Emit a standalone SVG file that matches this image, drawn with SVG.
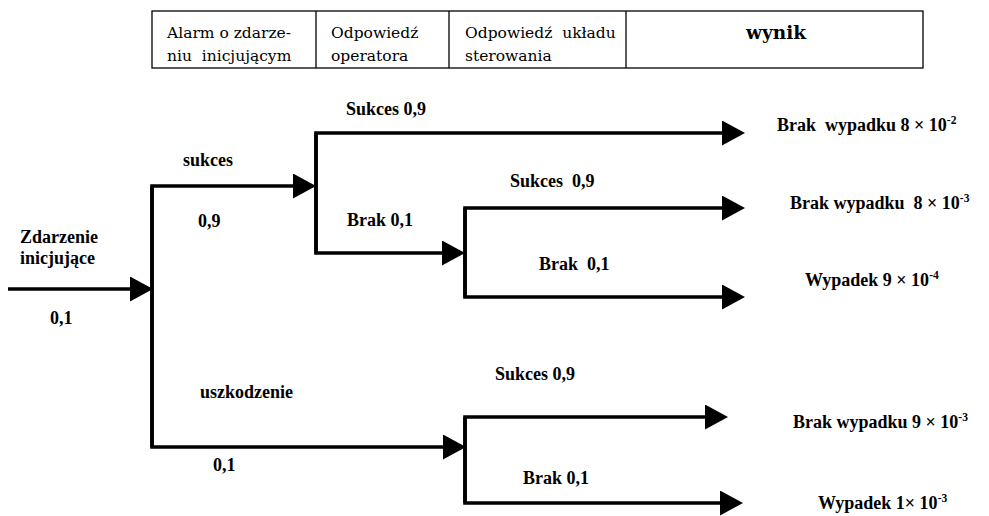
<svg xmlns="http://www.w3.org/2000/svg" width="989" height="516" viewBox="0 0 989 516">
<defs>
<marker id="ah" markerUnits="userSpaceOnUse" markerWidth="23" markerHeight="25" viewBox="0 0 23 25" refX="0" refY="12.5" orient="auto">
<path d="M0,0 L23,12.5 L0,25 Z" fill="#000"/>
</marker>
<style>
.hd{font-family:"DejaVu Serif","Liberation Serif",serif;font-size:15.5px;fill:#000;white-space:pre}
.lb{font-family:"Liberation Serif","Times New Roman",serif;font-size:18px;font-weight:bold;fill:#000;white-space:pre}
.wy{font-family:"DejaVu Serif","Liberation Serif",serif;font-size:18.5px;font-weight:bold;fill:#000}
.sup{font-size:11.5px}
.cn{fill:none;stroke:#000;stroke-width:3.6;stroke-linejoin:miter}
.tb{fill:none;stroke:#000;stroke-width:1.3}
</style>
</defs>
<rect width="989" height="516" fill="#fff"/>
<g id="header">
<rect class="tb" x="152" y="11" width="771" height="57"/>
<line class="tb" x1="316" y1="11" x2="316" y2="68"/>
<line class="tb" x1="449" y1="11" x2="449" y2="68"/>
<line class="tb" x1="626" y1="11" x2="626" y2="68"/>
<text class="hd" x="167" y="38">Alarm o zdarze-</text>
<text class="hd" x="167" y="61" xml:space="preserve">niu  inicjującym</text>
<text class="hd" x="331" y="38">Odpowiedź</text>
<text class="hd" x="331" y="61">operatora</text>
<text class="hd" x="465" y="38" xml:space="preserve">Odpowiedź  układu</text>
<text class="hd" x="465" y="61">sterowania</text>
<text class="wy" x="776" y="39" text-anchor="middle">wynik</text>
</g>
<g id="connectors">
<path class="cn" d="M8,289 H130" marker-end="url(#ah)"/>
<path class="cn" d="M152,447 V186 H293" marker-end="url(#ah)"/>
<path class="cn" d="M152,186 V447 H443" marker-end="url(#ah)"/>
<path class="cn" d="M316,253 V133 H722" marker-end="url(#ah)"/>
<path class="cn" d="M316,133 V253 H442" marker-end="url(#ah)"/>
<path class="cn" d="M465,297 V208 H722" marker-end="url(#ah)"/>
<path class="cn" d="M465,208 V297 H722" marker-end="url(#ah)"/>
<path class="cn" d="M465,503 V417 H705" marker-end="url(#ah)"/>
<path class="cn" d="M465,417 V503 H720" marker-end="url(#ah)"/>
</g>
<g id="start">
<text class="lb" x="20" y="243">Zdarzenie</text>
<text class="lb" x="20" y="264">inicjujące</text>
<text class="lb" x="50" y="324">0,1</text>
</g>
<g id="alarm-labels">
<text class="lb" x="183" y="166">sukces</text>
<text class="lb" x="198" y="227">0,9</text>
<text class="lb" x="200" y="398">uszkodzenie</text>
<text class="lb" x="213" y="471">0,1</text>
</g>
<g id="operator-labels">
<text class="lb" x="346" y="115">Sukces 0,9</text>
<text class="lb" x="347" y="226">Brak 0,1</text>
</g>
<g id="control-labels">
<text class="lb" x="510" y="187" xml:space="preserve">Sukces  0,9</text>
<text class="lb" x="539" y="270" xml:space="preserve">Brak  0,1</text>
<text class="lb" x="495" y="380">Sukces 0,9</text>
<text class="lb" x="523" y="484">Brak 0,1</text>
</g>
<g id="out1"><text class="lb" x="777" y="131" xml:space="preserve">Brak  wypadku 8 × 10<tspan class="sup" dy="-7">-2</tspan></text></g>
<g id="out2"><text class="lb" x="790" y="209" xml:space="preserve">Brak wypadku  8 × 10<tspan class="sup" dy="-7">-3</tspan></text></g>
<g id="out3"><text class="lb" x="805" y="286">Wypadek 9 × 10<tspan class="sup" dy="-7">-4</tspan></text></g>
<g id="out4"><text class="lb" x="793" y="428">Brak wypadku 9 × 10<tspan class="sup" dy="-7">-3</tspan></text></g>
<g id="out5"><text class="lb" x="818" y="509">Wypadek 1× 10<tspan class="sup" dy="-7">-3</tspan></text></g>
</svg>
